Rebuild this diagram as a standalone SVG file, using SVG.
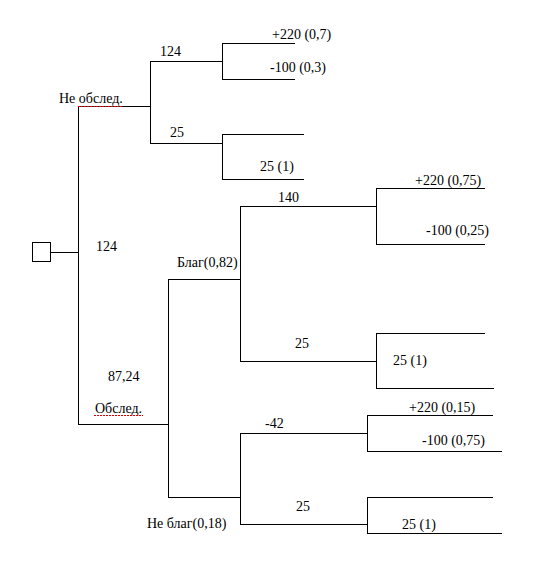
<svg xmlns="http://www.w3.org/2000/svg" width="560" height="568" viewBox="0 0 560 568">
<style>
.ln{stroke:#000;stroke-width:1;fill:none;shape-rendering:crispEdges}
text{font-family:"Liberation Serif","Times New Roman",serif;font-size:14px;fill:#000}
.sp{stroke:#d00;stroke-width:1;fill:none;stroke-dasharray:2 1}
</style>
<rect width="560" height="568" fill="#fff"/>
<g id="connectors" class="ln">
<path d="M51 252.5H78.5M78.5 106V425M78 106.5H150.5M150.5 61V144"/>
<path d="M150 61.5H222.5M222.5 43V80M222 43.5H295M222 79.5H295"/>
<path d="M150 143.5H222.5M222.5 134V180M222 134.5H304M222 179.5H304"/>
<path d="M78 424.5H168.5M168.5 279V498M168 279.5H240.5M240.5 206V362"/>
<path d="M240 206.5H376.5M376.5 188V245M376 188.5H485M376 244.5H485"/>
<path d="M240 361.5H376.5M376.5 333V389M376 333.5H485M376 388.5H494"/>
<path d="M168 497.5H240.5M240.5 433V525"/>
<path d="M240 433.5H367.5M367.5 415V452M367 415.5H493M367 451.5H502"/>
<path d="M240 524.5H367.5M367.5 497V534M367 497.5H493M367 533.5H502"/>
</g>
<g id="root"><rect class="ln" x="32.5" y="242.5" width="18" height="19" fill="#fff"/></g>
<g id="not-examined">
<text x="59" y="103">Не обслед.</text>
<path class="sp" d="M78 106.5H122"/>
<text x="96" y="251">124</text>
</g>
<g id="ne-buy"><text x="160" y="56">124</text></g>
<g id="ne-buy-out">
<text x="272" y="39">+220 (0,7)</text>
<text x="270" y="72">-100 (0,3)</text>
</g>
<g id="ne-sell"><text x="170" y="137">25</text><text x="260" y="171">25 (1)</text></g>
<g id="examined">
<text x="108" y="381">87,24</text>
<text x="95" y="413">Обслед.</text>
<path class="sp" d="M94 415.5H143"/>
</g>
<g id="good"><text x="177" y="267">Благ(0,82)</text></g>
<g id="good-buy">
<text x="278" y="202">140</text>
<text x="415" y="185">+220 (0,75)</text>
<text x="426" y="235">-100 (0,25)</text>
</g>
<g id="good-sell"><text x="295" y="348">25</text><text x="393" y="365">25 (1)</text></g>
<g id="bad"><text x="147" y="528">Не благ(0,18)</text></g>
<g id="bad-buy">
<text x="265" y="428">-42</text>
<text x="409" y="412">+220 (0,15)</text>
<text x="422" y="445">-100 (0,75)</text>
</g>
<g id="bad-sell"><text x="296" y="511">25</text><text x="402" y="529">25 (1)</text></g>
</svg>
